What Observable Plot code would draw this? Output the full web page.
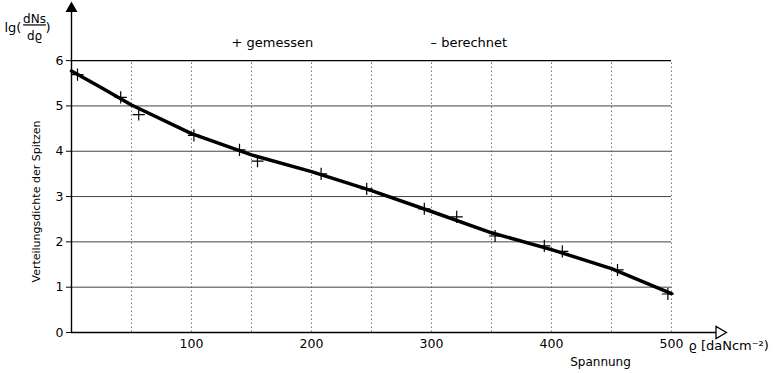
<!DOCTYPE html>
<html><head><meta charset="utf-8">
<script src="https://cdn.jsdelivr.net/npm/d3@7"></script>
<script src="https://cdn.jsdelivr.net/npm/@observablehq/plot@0.6"></script>
<style>body{margin:0;background:#fff} svg{display:block}</style>
</head><body><div id="chart"></div>
<script>
// gemessen (measured, crosses)
const measuredX = [5, 41, 56, 102, 140, 155, 208, 246, 294, 321, 353, 394, 409, 455, 497];
const measuredY = [5.69, 5.19, 4.81, 4.35, 4.03, 3.78, 3.50, 3.17, 2.73, 2.55, 2.13, 1.91, 1.79, 1.38, 0.85];
// berechnet (calculated, thick line)
const calcX = [0, 25, 50, 100, 150, 200, 250, 300, 350, 400, 450, 500];
const calcY = [5.77, 5.40, 5.02, 4.39, 3.92, 3.55, 3.13, 2.67, 2.20, 1.83, 1.41, 0.86];
const xTicks = [100, 200, 300, 400, 500];
const yTicks = [0, 1, 2, 3, 4, 5, 6];
const xGrid = [50, 100, 150, 200, 250, 300, 350, 400, 450, 500];
const xDomain = [0, 540];
const yDomain = [0, 7.15];

const measured = measuredX.map((x, i) => ({x, y: measuredY[i]}));
const calc = calcX.map((x, i) => ({x, y: calcY[i]}));
const font = "'DejaVu Sans', sans-serif";
const ML = 71, MT = 8;

// annotation helper: absolute pixel placement relative to the frame's top-left corner
function label(str, px, py, size, anchor = "middle", extra = {}) {
  return Plot.text([str], {frameAnchor: "top-left", dx: px - ML, dy: py - MT,
    textAnchor: anchor, lineAnchor: "middle", fontSize: size, fill: "black", ...extra});
}

const chart = Plot.plot({
  width: 784, height: 373,
  marginLeft: ML, marginRight: 65, marginTop: MT, marginBottom: 41,
  style: {fontFamily: font, fontSize: "12.5px", background: "white", color: "black"},
  x: {domain: xDomain, ticks: xTicks, tickSize: 0, tickPadding: 7, label: null},
  y: {domain: yDomain, ticks: yTicks, tickSize: 5, tickPadding: 3, label: null},
  marks: [
    Plot.ruleX(xGrid, {y1: 0, y2: 6, stroke: "#777", strokeDasharray: "1.5,2.5", strokeWidth: 1}),
    Plot.ruleY(yTicks.filter(d => d > 0 && d < 6), {x1: 0, x2: 500, stroke: "#444", strokeWidth: 1}),
    Plot.ruleY([6], {x1: 0, x2: 500, stroke: "black", strokeWidth: 1.2}),
    Plot.ruleY([0], {stroke: "black", strokeWidth: 1.4}),
    Plot.ruleX([0], {stroke: "black", strokeWidth: 1.4}),
    Plot.dot([xDomain[1]], {x: d => d, y: 0, symbol: "triangle", rotate: 90, r: 4.5, fill: "white", stroke: "black", strokeWidth: 1.3}),
    Plot.dot([yDomain[1]], {x: 0, y: d => d, symbol: "triangle", r: 3.5, fill: "black", stroke: "black"}),
    Plot.line(calc, {x: "x", y: "y", stroke: "black", strokeWidth: 3.5, curve: "linear"}),
    Plot.dot(measured, {x: "x", y: "y", symbol: "plus", r: 4, stroke: "black", strokeWidth: 1.2}),
    // legend
    label("+ gemessen", 231, 42, 13, "start"),
    label("– berechnet", 430, 42, 13, "start"),
    // y title
    label("lg(", 4, 27, 13, "start"),
    label("dNs", 34, 19, 12),
    label("dϱ", 34, 36, 12),
    label(")", 45, 27, 13, "start"),
    label("Verteilungsdichte der Spitzen", 36, 201, 11, "middle", {rotate: -90}),
    // x title
    label("ϱ [daNcm⁻²)", 688, 345, 13, "start"),
    label("Spannung", 600, 362, 12)
  ]
});
chart.querySelectorAll("text").forEach(t => {
  if (t.textContent === "dNs") t.style.textDecoration = "underline";
});
document.getElementById("chart").appendChild(chart);
</script>
</body></html>
